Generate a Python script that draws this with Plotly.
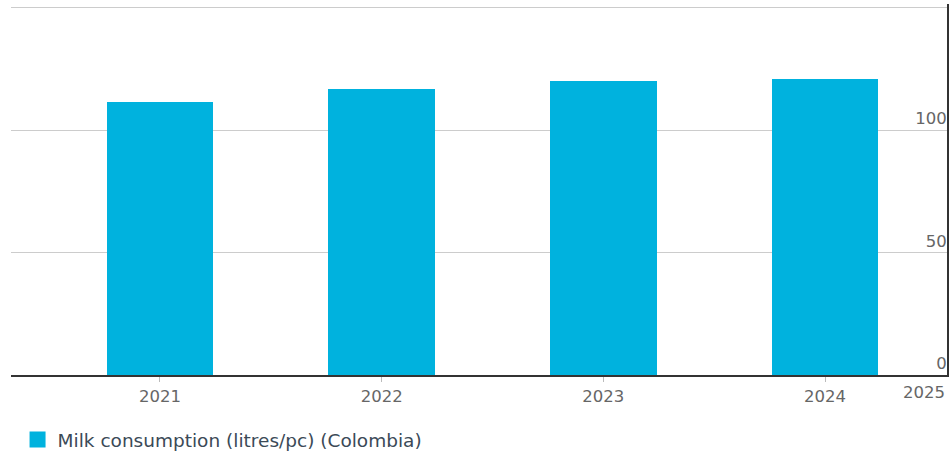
import plotly.graph_objects as go

years = [2021, 2022, 2023, 2024]
values = [111.5, 116.8, 120.2, 120.9]
series_name = "Milk consumption (litres/pc) (Colombia)"
y_ticks = [0, 50, 100, 150]
y_ticktext = ["0", "50", "100", ""]
extra_x_label = "2025"

bar_color = "#00B2DE"
font_family = "DejaVu Sans, Verdana, sans-serif"

fig = go.Figure()
fig.add_trace(go.Bar(
    x=years, y=values, name=series_name,
    marker=dict(color=bar_color, line=dict(width=0)),
    width=0.48, showlegend=False, legendgroup="s",
))
# legend entry for the series (larger square symbol)
fig.add_trace(go.Scatter(
    x=[None], y=[None], mode="markers", name=series_name, legendgroup="s",
    marker=dict(symbol="square", size=17, color=bar_color),
    showlegend=True,
))

fig.update_layout(
    width=949, height=454,
    margin=dict(l=11, r=2, t=4, b=79, autoexpand=False),
    paper_bgcolor="white", plot_bgcolor="white",
    font=dict(family=font_family, color="#666666", size=16),
    showlegend=True,
    legend=dict(
        orientation="h", x=0.007, xanchor="left",
        yref="container", y=0.031, yanchor="middle",
        font=dict(size=18.5, color="#3b4a57", family=font_family),
        bgcolor="rgba(0,0,0,0)", itemwidth=30,
    ),
    xaxis=dict(
        type="linear",
        range=[2020.328, 2024.55],
        tickvals=years, ticktext=[str(y) for y in years],
        showgrid=False, zeroline=False,
        showline=True, linecolor="#333333", linewidth=1.5,
        ticks="outside", ticklen=5, tickcolor="#bbbbbb", tickwidth=1,
        tickfont=dict(size=16.5, color="#666666"),
    ),
    yaxis=dict(
        range=[0, 151.5], side="right",
        tickvals=y_ticks, ticktext=y_ticktext,
        ticklabelposition="inside top",
        showgrid=True, gridcolor="#cccccc", gridwidth=1.2,
        zeroline=False,
        showline=True, linecolor="#333333", linewidth=1.5,
        ticks="", tickfont=dict(size=16.5, color="#666666"),
    ),
    bargap=0,
)

fig.add_annotation(
    text=extra_x_label, xref="paper", yref="paper",
    x=1.0, y=-0.046, xanchor="right", yanchor="middle",
    showarrow=False, font=dict(size=16.5, color="#666666", family=font_family),
)

fig.write_html("out.html")
